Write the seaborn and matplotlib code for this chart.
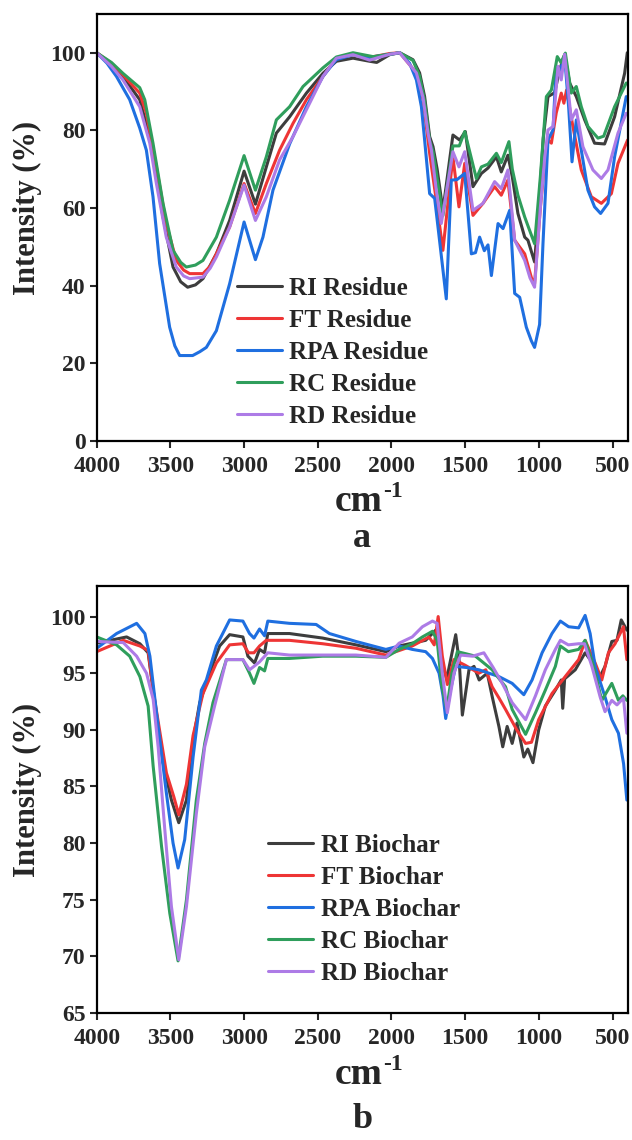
import matplotlib
matplotlib.use("Agg")
import matplotlib.pyplot as plt
import numpy as np
import pandas as pd
import seaborn as sns

sns.set_theme(style="ticks")
plt.rcParams["font.family"] = ["Liberation Serif", "DejaVu Serif"]
plt.rcParams["font.weight"] = "bold"

# ---------------- panel a : residues ----------------
ri_res_wn = [4000, 3900, 3822, 3708, 3640, 3595, 3550, 3482, 3430, 3383, 3330, 3279, 3188, 3098,
             3000, 2923, 2849, 2781, 2691, 2577, 2465, 2374, 2261, 2148, 2100, 2012, 1944, 1854,
             1809, 1775, 1741, 1718, 1690, 1651, 1583, 1537, 1499, 1447, 1390, 1345, 1288, 1255,
             1210, 1180, 1142, 1096, 1074, 1029, 1000, 970, 938, 893, 859, 825, 791, 746, 689,
             622, 554, 486, 418, 400]
ri_res_val = [100, 97, 93.9, 87.9, 78.4, 68, 57.7, 44.8, 41, 39.6, 40.2, 41.8, 48.2, 56.8,
              69.5, 61, 70.6, 79.3, 83.5, 89.6, 94.7, 97.8, 98.6, 97.8, 97.5, 99.5, 100, 98.2,
              94.8, 88.7, 78.4, 75.8, 70, 59.4, 78.8, 77.5, 79.7, 65.5, 68.9, 70.3, 73.2, 69.3,
              73.6, 68, 58.6, 52.5, 51.7, 46.1, 60, 78, 88.7, 89.7, 95.6, 99.5, 92.2, 88.7, 82.7,
              76.7, 76.5, 83.5, 94.7, 100]

ft_res_wn = [4000, 3900, 3822, 3708, 3663, 3595, 3528, 3460, 3410, 3369, 3279, 3230, 3188, 3098,
             3000, 2923, 2849, 2759, 2668, 2577, 2465, 2374, 2261, 2148, 2012, 1944, 1831, 1786,
             1752, 1741, 1696, 1651, 1583, 1542, 1503, 1447, 1379, 1300, 1255, 1210, 1164, 1096,
             1050, 1029, 990, 960, 938, 915, 882, 848, 830, 812, 769, 712, 644, 576, 508, 463, 398]
ft_res_val = [100, 97.3, 94.3, 89.6, 84.4, 70.6, 56, 46.5, 44, 43.1, 43.1, 45, 48.2, 55.1,
              66.3, 58.6, 66.3, 74.9, 81.8, 87.9, 93.9, 98.6, 99.5, 98.8, 99.8, 100, 94.8, 87.9,
              77.5, 74.1, 62, 49.1, 73.2, 60.3, 71.5, 58.1, 61.2, 65.5, 63.3, 67.2, 51.7, 48.2,
              42, 40.5, 60, 72, 77.5, 76.7, 84.5, 89.6, 87, 90.4, 81, 69.8, 62.9, 61.2, 63.7, 71.5, 77.5]

rpa_res_wn = [4000, 3930, 3866, 3776, 3708, 3663, 3618, 3573, 3505, 3470, 3437, 3349, 3300, 3256,
              3188, 3098, 3000, 2923, 2872, 2804, 2691, 2577, 2465, 2374, 2261, 2148, 2012, 1944,
              1877, 1831, 1797, 1775, 1741, 1707, 1684, 1628, 1594, 1556, 1503, 1458, 1430, 1402,
              1370, 1345, 1322, 1277, 1243, 1198, 1164, 1130, 1085, 1051, 1029, 995, 972, 938,
              904, 882, 860, 825, 798, 775, 746, 712, 667, 622, 581, 531, 486, 407]
rpa_res_val = [100, 97.3, 93.9, 87.9, 80.6, 74.9, 62.9, 45.7, 29.3, 24.5, 22, 22, 23, 24.1,
               28.4, 40.5, 56.4, 46.7, 52.5, 64.6, 76.5, 86.1, 93.9, 98.2, 99.5, 98.8, 99.6, 100,
               97.3, 93, 86.1, 77.5, 63.7, 62.5, 55, 36.6, 67.2, 67.3, 68.9, 48.2, 48.5, 52.5,
               49, 50.5, 42.6, 56, 54.7, 59.4, 38, 37, 29.3, 25.8, 24.1, 30, 50.8, 77.5,
               80.1, 96.5, 95, 99, 86.1, 71.9, 82.7, 74.9, 64.6, 60.3, 58.6, 61.2, 73.2, 88.7]

rc_res_wn = [4000, 3900, 3822, 3708, 3674, 3618, 3550, 3482, 3430, 3392, 3330, 3279, 3188, 3098,
             3000, 2923, 2849, 2781, 2691, 2600, 2465, 2374, 2261, 2125, 2012, 1944, 1854, 1809,
             1775, 1741, 1718, 1651, 1583, 1540, 1503, 1424, 1390, 1345, 1288, 1255, 1203, 1180,
             1142, 1096, 1070, 1029, 990, 949, 915, 875, 850, 820, 780, 746, 712, 667, 599, 560,
             486, 407]
rc_res_val = [100, 97.5, 94.7, 91, 87.9, 76.7, 61.2, 49.1, 46, 44.8, 45.3, 46.5, 52.5, 62,
              73.5, 64.6, 73.2, 82.7, 86.1, 91.3, 96.1, 98.9, 100, 99, 99.6, 100, 98, 94,
              87.5, 77.5, 74.5, 58, 76, 76, 79.7, 67.6, 70.6, 71.3, 74.1, 71.7, 77.1, 70,
              63.3, 57.7, 55, 50.8, 68, 88.7, 90.4, 99, 97.5, 99.9, 89.6, 91.3, 86.1, 81, 78, 78.5,
              86.1, 92.2]

rd_res_wn = [4000, 3900, 3822, 3708, 3640, 3595, 3528, 3460, 3410, 3369, 3279, 3230, 3188, 3098,
             3000, 2923, 2849, 2759, 2668, 2555, 2465, 2374, 2261, 2148, 2012, 1944, 1831, 1786,
             1752, 1729, 1696, 1662, 1583, 1542, 1503, 1447, 1379, 1300, 1255, 1210, 1164, 1096,
             1060, 1029, 990, 960, 938, 904, 870, 848, 825, 780, 746, 701, 633, 576, 531, 463, 407]
rd_res_val = [100, 96.5, 93, 86.1, 76.7, 66.3, 52.5, 44.8, 42.5, 41.8, 42.2, 44.5, 47.4, 55.1,
              65.9, 56.8, 62.9, 72.4, 78.4, 87, 93.9, 98.6, 99.5, 98.1, 99.6, 100, 94.8, 88.5,
              79.3, 74.9, 64.6, 56, 74.5, 70.6, 74.5, 59.4, 61.2, 66.8, 65, 69.8, 51.7, 46.5,
              42, 39.6, 60, 73, 80.1, 81, 96.5, 93, 99.6, 82.7, 85.3, 75.8, 69.8, 67.6, 69.8, 79.3, 84.4]

# ---------------- panel b : biochars ----------------
ri_bc_wn = [4000, 3797, 3707, 3651, 3617, 3549, 3493, 3443, 3391, 3346, 3301, 3233, 3166, 3098,
            3008, 2974, 2929, 2895, 2861, 2839, 2692, 2467, 2241, 2038, 1948, 1859, 1768, 1700,
            1660, 1625, 1564, 1540, 1519, 1474, 1440, 1405, 1350, 1316, 1271, 1245, 1215, 1181,
            1148, 1102, 1075, 1040, 1001, 956, 888, 848, 838, 825, 753, 686, 640, 596, 551, 505,
            470, 441, 403]
ri_bc_val = [97.65, 98.2, 97.6, 96.8, 93.5, 87.1, 83.8, 81.8, 83.8, 89.1, 92.4, 95, 97.4, 98.4,
             98.2, 96.5, 95.9, 97.1, 96.8, 98.5, 98.5, 98.1, 97.5, 96.9, 97.4, 97.65, 97.9, 98.8,
             96, 94.5, 98.4, 96, 91.3, 95.3, 95.6, 94.4, 95, 92.9, 90.3, 88.5, 90.3, 88.8,
             90.6, 87.6, 88.3, 87.1, 90, 92.1, 93.5, 94.4, 91.9, 94.5, 95.3, 96.8, 96, 94.4, 95.6, 97.8,
             97.9, 99.7, 98.8]

ft_bc_wn = [4000, 3820, 3707, 3651, 3617, 3527, 3477, 3443, 3391, 3346, 3279, 3188, 3098, 3008,
            2970, 2933, 2895, 2850, 2692, 2467, 2241, 2038, 1948, 1859, 1745, 1710, 1683, 1655,
            1621, 1576, 1500, 1407, 1360, 1317, 1270, 1226, 1150, 1090, 1050, 1001, 911, 821,
            730, 686, 618, 573, 528, 483, 426, 403]
ft_bc_val = [96.9, 97.9, 97.4, 97, 93.5, 86.2, 84.1, 82.5, 85.2, 89.5, 93.2, 95.9, 97.5, 97.6,
             96.8, 96.8, 97.4, 97.9, 97.9, 97.6, 97.2, 96.6, 97, 97.4, 98.2, 97.5, 100, 96.5,
             94, 96.2, 95.7, 95, 95.3, 93.8, 92.8, 91.8, 90, 88.8, 88.9, 90.9, 93.2, 94.7,
             96.2, 97.9, 95.9, 94.4, 96.8, 97.6, 99.1, 96.2]

rpa_bc_wn = [4000, 3865, 3729, 3673, 3639, 3594, 3527, 3482, 3448, 3403, 3346, 3290, 3256, 3188,
             3098, 3008, 2963, 2933, 2895, 2861, 2839, 2692, 2511, 2421, 2241, 2038, 1948, 1859,
             1768, 1722, 1677, 1650, 1632, 1600, 1564, 1490, 1407, 1271, 1181, 1102, 1046, 978,
             911, 854, 798, 730, 686, 652, 618, 551, 505, 460, 425, 403]
rpa_bc_val = [97.2, 98.5, 99.4, 98.5, 96.5, 91.5, 84.4, 80, 77.8, 80.3, 87.6, 93.5, 94.4, 97.4,
              99.7, 99.6, 98.5, 98.1, 98.9, 98.3, 99.6, 99.4, 99.3, 98.5, 97.8, 97.1, 97.4, 97.1,
              96.9, 96.3, 95, 93, 91, 93.5, 95.6, 95.5, 95.3, 94.7, 94.1, 93.1, 94.4, 96.8,
              98.5, 99.6, 99.1, 99, 100.1, 98.5, 95.6, 92.9, 90.9, 89.7, 87, 83.8]

rc_bc_wn = [4000, 3865, 3776, 3707, 3651, 3617, 3560, 3504, 3448, 3391, 3324, 3267, 3211, 3120,
            3008, 2963, 2933, 2895, 2861, 2839, 2692, 2467, 2241, 2038, 1948, 1859, 1790, 1722,
            1690, 1660, 1625, 1590, 1553, 1490, 1430, 1317, 1226, 1181, 1090, 1023, 956, 888,
            854, 800, 730, 686, 629, 573, 505, 460, 430, 403]
rc_bc_val = [98.2, 97.5, 96.5, 94.7, 92.1, 86.8, 79.7, 73.8, 69.6, 75, 83.8, 88.8, 92.4, 96.2,
             96.2, 95, 94.1, 95.5, 95.2, 96.3, 96.3, 96.5, 96.5, 96.4, 97.1, 97.6, 98.2, 98.7,
             97.9, 94, 91.8, 95, 96.9, 96.7, 96.5, 95.3, 93.8, 91.8, 89.6, 91.5, 93.5, 95.6,
             97.4, 96.9, 97.1, 97.9, 95.6, 92.6, 94.1, 92.6, 93, 92.6]

rd_bc_wn = [4000, 3820, 3729, 3662, 3617, 3583, 3538, 3493, 3443, 3391, 3324, 3267, 3200, 3120,
            3008, 2963, 2933, 2895, 2839, 2692, 2467, 2241, 2038, 1948, 1859, 1790, 1722, 1690,
            1655, 1621, 1576, 1531, 1450, 1373, 1310, 1248, 1181, 1090, 1023, 956, 888, 854,
            800, 730, 690, 640, 584, 551, 505, 470, 426, 403]
rd_bc_val = [97.8, 97.7, 96.5, 95, 92.7, 88.5, 81.2, 74.4, 69.7, 74.4, 82.6, 88.5, 92.1, 96.2,
             96.2, 95.3, 95.6, 96, 96.8, 96.6, 96.6, 96.6, 96.4, 97.65, 98.2, 99.1, 99.6, 99.4,
             95, 91.5, 95, 96.6, 96.5, 96.8, 95.5, 94.1, 92.4, 90.9, 93, 95.3, 97.1, 97.9,
             97.5, 97.6, 97.6, 95.6, 92.9, 91.6, 92.6, 92.2, 92.8, 89.7]

colors = ["#3d3d3d", "#ee3535", "#1f6fe0", "#2f9e5c", "#ad7be6"]

residues = [("RI Residue", ri_res_wn, ri_res_val), ("FT Residue", ft_res_wn, ft_res_val),
            ("RPA Residue", rpa_res_wn, rpa_res_val), ("RC Residue", rc_res_wn, rc_res_val),
            ("RD Residue", rd_res_wn, rd_res_val)]
biochars = [("RI Biochar", ri_bc_wn, ri_bc_val), ("FT Biochar", ft_bc_wn, ft_bc_val),
            ("RPA Biochar", rpa_bc_wn, rpa_bc_val), ("RC Biochar", rc_bc_wn, rc_bc_val),
            ("RD Biochar", rd_bc_wn, rd_bc_val)]


def to_frame(series):
    parts = [pd.DataFrame({"wn": w, "val": v, "sample": name}) for name, w, v in series]
    return pd.concat(parts, ignore_index=True)


fig = plt.figure(figsize=(6.32, 11.4), dpi=100)
ax_a = fig.add_axes([0.153, 0.6132, 0.8407, 0.3746])
ax_b = fig.add_axes([0.153, 0.1114, 0.8407, 0.3746])

# (axes, data, ylim, yticks, legend anchor, ylabel y, tag, tag y, "cm" baseline y)
panels = [
    (ax_a, residues, (0, 110), np.arange(0, 101, 20), (0.264, 0.03), 0.546, "a", 0.528, 0.5515),
    (ax_b, biochars, (65, 102.7), np.arange(65, 101, 5), (0.3226, 0.066), 0.522, "b", 0.018, 0.049),
]

for ax, series, ylim, yticks, leg_pos, ylab_y, tag, tag_y, cm_y in panels:
    df = to_frame(series)
    sns.lineplot(data=df, x="wn", y="val", hue="sample", palette=colors, estimator=None,
                 linewidth=2.2, ax=ax)
    ax.set_xlim(4000, 395)
    ax.set_ylim(*ylim)
    ax.set_xticks(np.arange(4000, 499, -500))
    ax.set_yticks(yticks)
    ax.tick_params(axis="both", direction="out", length=5, width=1.5, labelsize=17,
                   top=False, right=False)
    ax.tick_params(axis="x", pad=6)
    ax.tick_params(axis="y", pad=3)
    for lab in ax.get_xticklabels() + ax.get_yticklabels():
        lab.set_fontweight("bold")
    for sp in ax.spines.values():
        sp.set_linewidth(1.6)
        sp.set_color("black")
    ax.set_ylabel("Intensity (%)", fontsize=22, fontweight="bold")
    ax.yaxis.set_label_coords(-0.103, ylab_y)
    ax.set_xlabel("")
    # "cm" with a raised "-1", written as two texts so the dash stays a short hyphen
    fig.text(0.605, cm_y, "cm", fontsize=27, fontweight="bold", ha="right", va="baseline")
    fig.text(0.607, cm_y + 0.0125, "-1", fontsize=17, fontweight="bold", ha="left", va="baseline")
    handles, labels = ax.get_legend_handles_labels()
    leg = ax.legend(handles, labels, loc="lower left", bbox_to_anchor=leg_pos, frameon=False,
                    prop={"size": 18, "weight": "bold"}, handlelength=1.8, handletextpad=0.3,
                    labelspacing=0.36, borderpad=0, borderaxespad=0)
    for line in leg.get_lines():
        line.set_linewidth(2.2)
    fig.text(0.573, tag_y, tag, fontsize=26, fontweight="bold", ha="center", va="center")

fig.savefig("out.png", dpi=100)
